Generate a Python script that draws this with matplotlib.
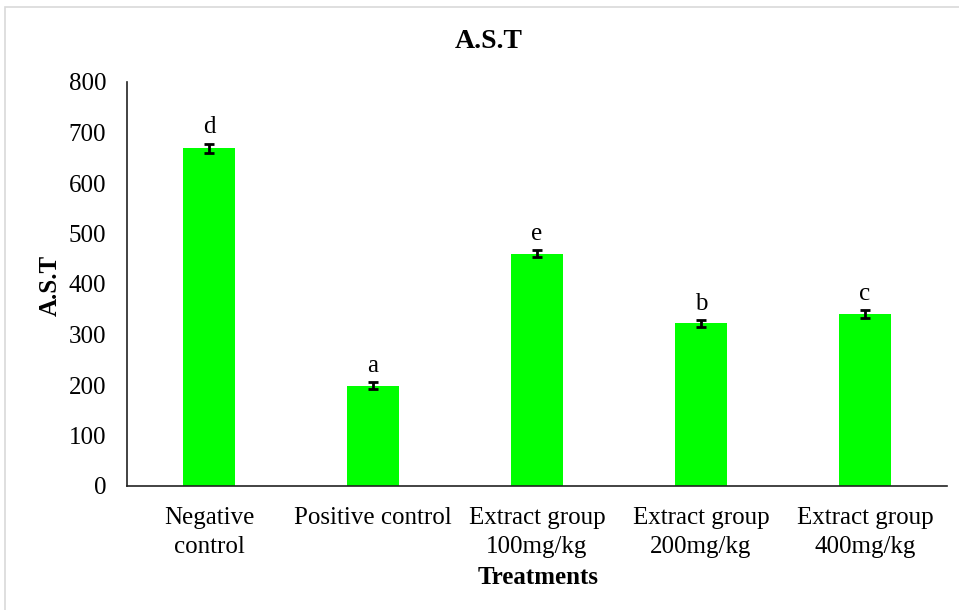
import matplotlib
matplotlib.use("Agg")
import matplotlib.pyplot as plt
from matplotlib.patches import Rectangle

categories = ["Negative\ncontrol", "Positive control", "Extract group\n100mg/kg",
              "Extract group\n200mg/kg", "Extract group\n400mg/kg"]
values = [669, 199, 460, 322, 340]
errors = [9, 6, 7, 6.5, 8]
letters = ["d", "a", "e", "b", "c"]
yticks = [0, 100, 200, 300, 400, 500, 600, 700, 800]

plt.rcParams['font.family'] = ['Liberation Serif', 'DejaVu Serif']

fig = plt.figure(figsize=(9.59, 6.10), dpi=100)
ax = fig.add_axes([127/959, 1-486/610, (947-127)/959, (486-82)/610])

x = list(range(len(categories)))
ax.bar(x, values, width=0.32, color="#00FF00", zorder=2)
ax.errorbar(x, values, yerr=errors, fmt="none", ecolor="black",
            elinewidth=2, capsize=3.6, capthick=2, zorder=3)
for xi, v, e, l in zip(x, values, errors, letters):
    ax.annotate(l, (xi, v + e), xytext=(0, 4), textcoords="offset points",
                ha="center", va="bottom", fontsize=18)

ax.set_xlim(-0.5, len(categories) - 0.5)
ax.set_ylim(0, 800)
ax.set_yticks(yticks)
ax.set_xticks(x)
ax.set_xticklabels(categories, fontsize=18, linespacing=1.45)
ax.tick_params(axis="y", length=0, pad=15, labelsize=18)
ax.tick_params(axis="x", length=0, pad=15)
for s in ["top", "right"]:
    ax.spines[s].set_visible(False)
ax.spines["left"].set_color("#222222")
ax.spines["bottom"].set_color("#222222")
ax.spines["left"].set_linewidth(1.2)
ax.spines["bottom"].set_linewidth(1.2)

fig.text(489/959, 1-42/610, "A.S.T", ha="center", va="center", fontsize=20, fontweight="bold")
fig.text(50/959, 1-285/610, "A.S.T", ha="center", va="center", rotation=90, fontsize=18, fontweight="bold")
fig.text(538/959, 1-578/610, "Treatments", ha="center", va="center", fontsize=18, fontweight="bold")

fig.patches.append(Rectangle((5/959, -0.05), 1.1, 1 - 7/610 + 0.05, transform=fig.transFigure,
                             fill=False, edgecolor="#d9d9d9", linewidth=1.2))

fig.savefig("out.png", dpi=100)
